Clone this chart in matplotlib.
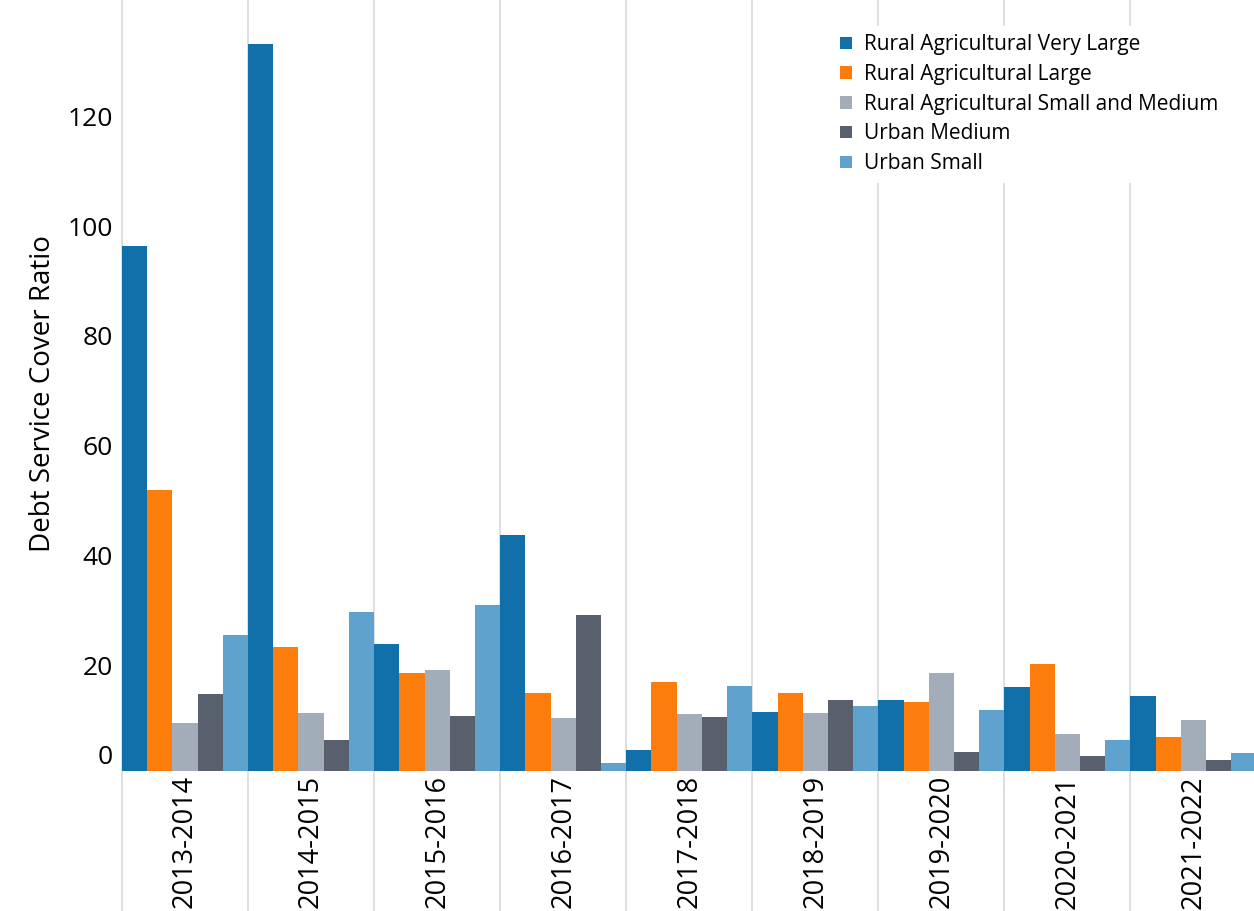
import numpy as np
import matplotlib
matplotlib.use('Agg')
import matplotlib.pyplot as plt
import matplotlib.transforms as mtransforms

plt.rcParams['font.family'] = ['Open Sans', 'DejaVu Sans']

years = ['2013-2014', '2014-2015', '2015-2016', '2016-2017', '2017-2018',
         '2018-2019', '2019-2020', '2020-2021', '2021-2022']

# values
rural_very_large = [95.6, 132.4, 23.1, 42.9, 3.8, 10.7, 12.9, 15.3, 13.6]
rural_large = [51.1, 22.6, 17.8, 14.2, 16.2, 14.2, 12.5, 19.5, 6.2]
rural_small_medium = [8.7, 10.5, 18.4, 9.6, 10.4, 10.5, 17.8, 6.7, 9.3]
urban_medium = [14.0, 5.6, 10.0, 28.4, 9.8, 12.9, 3.5, 2.7, 2.0]
urban_small = [24.7, 28.9, 30.2, 1.5, 15.5, 11.8, 11.1, 5.6, 3.3]

series_names = ['Rural Agricultural Very Large', 'Rural Agricultural Large',
                'Rural Agricultural Small and Medium', 'Urban Medium', 'Urban Small']
series = [rural_very_large, rural_large, rural_small_medium, urban_medium, urban_small]
colors = ['#1170aa', '#fc7d0b', '#a3acb9', '#57606c', '#5fa2ce']

fig = plt.figure(figsize=(12.54, 9.11), dpi=100)
ax = fig.add_axes([0.0973, 0.1537, 0.9027, 0.8463])

x = np.arange(len(years))
width = 0.2
for i, (name, vals, c) in enumerate(zip(series_names, series, colors)):
    ax.bar(x + (i - 2) * width, vals, width, color=c, label=name, zorder=2)

ax.set_xlim(-0.5, 8.48)
ax.set_ylim(0, 140.4)

# group separators, running down through the label area
ax.vlines(x - 0.5, -0.19, 1, transform=ax.get_xaxis_transform(),
          colors='#d9d9d9', lw=1.2, zorder=0, clip_on=False)
ax.axhline(0, color='#d0d0d0', lw=1, zorder=1)

for s in ax.spines.values():
    s.set_visible(False)
ax.tick_params(length=0)
ax.tick_params(axis='y', labelsize=19, pad=6.5)
ax.tick_params(axis='x', labelsize=19.5, pad=3)

ax.set_yticks([0, 20, 40, 60, 80, 100, 120])
ax.set_xticks(x)
ax.set_xticklabels(years, rotation=90, va='top', ha='center')

# nudge the y tick labels like the original (zero label sits higher)
for lab in ax.get_yticklabels():
    dy = 12 / 72 if lab.get_text() == '0' else -3 / 72
    off = mtransforms.ScaledTranslation(0, dy, fig.dpi_scale_trans)
    lab.set_transform(lab.get_transform() + off)

ax.set_ylabel('Debt Service Cover Ratio', fontsize=20)
ax.yaxis.set_label_coords(-0.0574, 0.489)

ax.legend(loc='upper left', bbox_to_anchor=(0.663, 0.9716), bbox_transform=fig.transFigure,
          borderaxespad=0, frameon=True, facecolor='white', edgecolor='none',
          framealpha=1, fancybox=False, fontsize=15, handlelength=0.58,
          handleheight=0.55, handletextpad=0.6, labelspacing=0.42, borderpad=0.4)

fig.savefig('out.png', dpi=100)
